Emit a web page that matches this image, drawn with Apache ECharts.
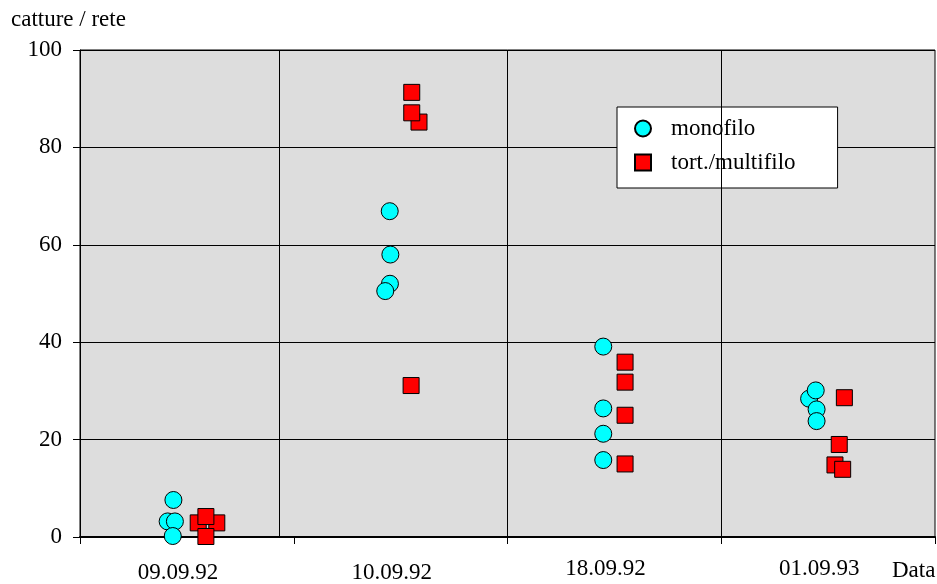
<!DOCTYPE html>
<html>
<head>
<meta charset="utf-8">
<script src="https://cdn.jsdelivr.net/npm/echarts@6/dist/echarts.min.js"></script>
<style>
html,body{margin:0;padding:0;background:#fff;}
#c{width:937px;height:584px;}
</style>
</head>
<body>
<div id="c"></div>
<script>
// categories (sampling dates)
var categories = ['09.09.92', '10.09.92', '18.09.92', '01.09.93'];
var yTicks = [0, 20, 40, 60, 80, 100];

// monofilo: category index, position inside category (0..1), value
var monoCat    = [0, 0, 0, 0, 1, 1, 1, 1, 2, 2, 2, 2, 3, 3, 3, 3];
var monoPos    = [0.437, 0.410, 0.444, 0.434, 0.449, 0.452, 0.450, 0.428, 0.448, 0.448, 0.448, 0.448, 0.411, 0.442, 0.446, 0.446];
var monoValues = [7.6, 3.2, 3.2, 0.2, 66.9, 58.0, 52.0, 50.5, 39.1, 26.4, 21.2, 15.8, 28.4, 30.1, 26.2, 23.8];

// tort./multifilo
var multiCat    = [0, 0, 0, 0, 1, 1, 1, 1, 2, 2, 2, 2, 3, 3, 3, 3];
var multiPos    = [0.553, 0.640, 0.589, 0.589, 0.552, 0.586, 0.552, 0.549, 0.550, 0.550, 0.550, 0.550, 0.576, 0.552, 0.532, 0.568];
var multiValues = [2.9, 2.9, 4.2, 0.1, 91.3, 85.2, 87.1, 31.1, 35.9, 31.8, 25.0, 15.0, 28.6, 19.0, 14.8, 13.9];

// vertical grid lines (category units, as drawn in the original)
var vGrid = [0.93, 2, 3];

function pts(cat, pos, val) {
  var out = [];
  for (var i = 0; i < val.length; i++) out.push([cat[i] + pos[i], val[i]]);
  return out;
}

var FONT = "'Liberation Serif', 'Times New Roman', serif";
var FS = 23;
var chart = echarts.init(document.getElementById('c'), null, {renderer: 'canvas'});

chart.setOption({
  animation: false,
  backgroundColor: '#ffffff',
  title: [
    {text: 'catture / rete', left: 11, top: 8, padding: 0,
     textStyle: {fontFamily: FONT, fontSize: FS, fontWeight: 'normal', color: '#000'}},
    {text: 'Data', left: 892, top: 559, padding: 0,
     textStyle: {fontFamily: FONT, fontSize: FS, fontWeight: 'normal', color: '#000'}}
  ],
  grid: {left: 80, right: 2, top: 50, bottom: 44, show: true,
         backgroundColor: '#dddddd', borderColor: '#000', borderWidth: 1},
  legend: {
    orient: 'vertical', left: 617, top: 107,
    backgroundColor: '#ffffff', borderColor: '#000', borderWidth: 1,
    padding: [10, 42, 14, 17],
    itemWidth: 16, itemHeight: 16, itemGap: 11,
    textStyle: {fontFamily: FONT, fontSize: FS, lineHeight: FS, color: '#000', padding: [0, 0, 0, 15]},
    data: ['monofilo', 'tort./multifilo']
  },
  xAxis: [
    {
      type: 'category', data: categories.map(function (c, i) {
        return {value: c, textStyle: {padding: i < 2 ? [4, 18, 0, 0] : [0, 18, 4, 0]}};
      }),
      boundaryGap: true,
      axisLine: {show: true, lineStyle: {color: '#000', width: 2}},
      axisTick: {show: true, length: 7, lineStyle: {color: '#000', width: 1}},
      axisLabel: {fontFamily: FONT, fontSize: FS, color: '#000', margin: 20},
      splitLine: {show: false}
    },
    {
      type: 'value', min: 0, max: 4, interval: 1, show: false,
      splitLine: {show: false}
    }
  ],
  yAxis: {
    type: 'value', min: yTicks[0], max: yTicks[yTicks.length - 1], interval: yTicks[1] - yTicks[0],
    axisLine: {show: true, lineStyle: {color: '#000', width: 1}},
    axisTick: {show: true, length: 7, lineStyle: {color: '#000'}},
    axisLabel: {fontFamily: FONT, fontSize: FS, color: '#000', margin: 18, padding: [3, 0, 0, 0]},
    splitLine: {show: true, lineStyle: {color: '#000', width: 1}}
  },
  series: [
    {
      name: 'gridlines', type: 'scatter', xAxisIndex: 1, data: [], silent: true,
      markLine: {
        silent: true, symbol: 'none', label: {show: false},
        lineStyle: {color: '#000', width: 1, type: 'solid'},
        data: vGrid.map(function (v) { return {xAxis: v}; })
      }
    },
    {
      name: 'monofilo', type: 'scatter', xAxisIndex: 1, symbol: 'circle', symbolSize: 17,
      itemStyle: {color: '#00ffff', borderColor: '#000', borderWidth: 1, opacity: 1},
      data: pts(monoCat, monoPos, monoValues)
    },
    {
      name: 'tort./multifilo', type: 'scatter', xAxisIndex: 1, symbol: 'rect', symbolSize: 16,
      itemStyle: {color: '#ff0000', borderColor: '#000', borderWidth: 1, opacity: 1},
      data: pts(multiCat, multiPos, multiValues)
    }
  ]
});
</script>
</body>
</html>
